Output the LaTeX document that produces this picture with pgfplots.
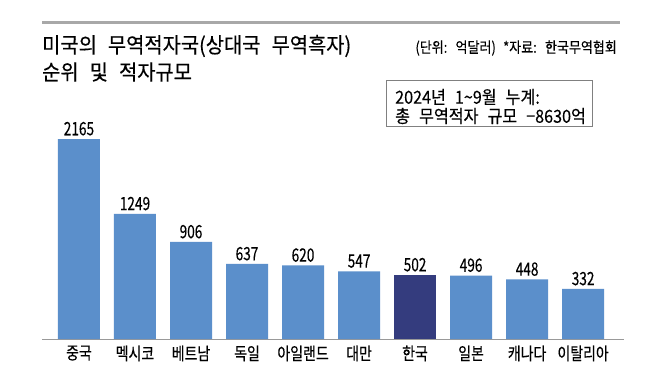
\documentclass[border=0pt]{standalone}
\usepackage{pgfplots}
\pgfplotsset{compat=1.18}
\usepackage{pgfplotstable}
\usepackage{fontspec}
\setmainfont{Noto Sans CJK KR}[FakeStretch=0.8, FakeBold=0.3, WordSpace=2.5]
\newfontfamily\titlefont{Noto Sans CJK KR}[FakeStretch=0.925, FakeBold=0.3, WordSpace=2.5]
\newfontfamily\boxfont{Noto Sans CJK KR}[FakeStretch=0.9, FakeBold=0.25, WordSpace=2.5]
\newfontfamily\unitfont{Noto Sans CJK KR}[FakeStretch=0.87, FakeBold=0.2, WordSpace=2.5]
\newfontfamily\numfont{Noto Sans CJK KR}[FakeStretch=0.74, FakeBold=0.2]
\definecolor{barblue}{HTML}{5B8FCB}
\definecolor{barnavy}{HTML}{343C7E}
\definecolor{linegray}{HTML}{A8A8A8}
\pgfplotstableread{
x v
0 2165
1 1249
2 906
3 637
4 620
5 547
7 496
8 448
9 332
}\others
\pgfplotstableread{
x v
6 502
}\korea
\begin{document}
\begin{tikzpicture}[x=1bp,y=1bp]
\useasboundingbox (0,0) rectangle (668,376);
\fill[white] (0,0) rectangle (668,376);
\draw[linegray, line width=3bp] (42,353) -- (620,353);
\node[anchor=west, inner sep=0pt, font=\titlefont\fontsize{21.5}{23}\selectfont] at (42,330) {미국의 무역적자국(상대국 무역흑자)};
\node[anchor=west, inner sep=0pt, font=\titlefont\fontsize{21.5}{23}\selectfont] at (42,304) {순위 및 적자규모};
\node[anchor=east, inner sep=0pt, font=\unitfont\fontsize{15}{17}\selectfont] at (617,328) {(단위: 억달러) *자료: 한국무역협회};
\draw[gray, line width=0.8bp] (386,250) rectangle (592,296);
\node[anchor=west, inner sep=0pt, font=\boxfont\fontsize{18}{20}\selectfont] at (395,279) {2024년 1\textasciitilde 9월 누계:};
\node[anchor=west, inner sep=0pt, font=\boxfont\fontsize{18}{20}\selectfont] at (395,260) {총 무역적자 규모 −8630억};
\begin{axis}[
  at={(42bp,37bp)}, anchor=south west,
  scale only axis, width=582bp, height=239bp,
  xmin=-0.66, xmax=9.73, ymin=0, ymax=2922,
  axis x line*=bottom, axis y line=none,
  x axis line style={draw=gray!80, line width=1bp, -},
  xtick={0,...,9},
  xticklabels={중국,멕시코,베트남,독일,아일랜드,대만,한국,일본,캐나다,이탈리아},
  xticklabel style={font=\fontsize{17.5}{19}\selectfont, yshift=-3bp},
  major tick length=0pt,
  ybar, bar width=42bp, bar shift=0pt,
  nodes near coords,
  point meta=explicit,
  /pgf/number format/assume math mode=true,
  /pgf/number format/1000 sep={},
  nodes near coords style={font=\numfont\fontsize{18.5}{20}\selectfont, yshift=0bp},
  clip=false,
]
\addplot[fill=barblue, draw=none] table[x=x, y expr=\thisrow{v}+280, meta=v] {\others};
\addplot[fill=barnavy, draw=none] table[x=x, y expr=\thisrow{v}+280, meta=v] {\korea};
\end{axis}
\end{tikzpicture}
\end{document}
